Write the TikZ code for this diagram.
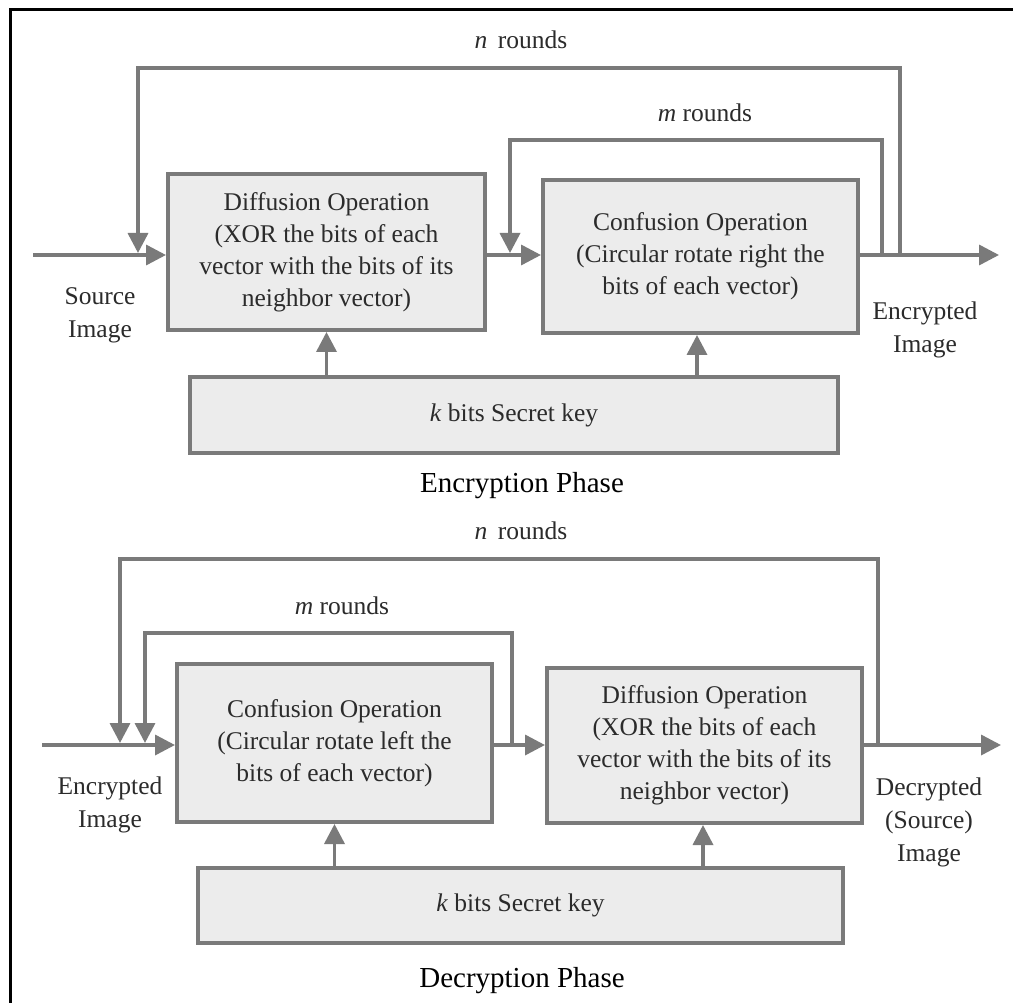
\documentclass[tikz,border=0pt]{standalone}
\usepackage{fontspec}
\setmainfont{Liberation Serif}
\usetikzlibrary{arrows.meta}
\definecolor{wire}{HTML}{7A7A7A}
\definecolor{boxfill}{HTML}{ECECEC}
\definecolor{ink}{HTML}{2B2B2B}

\begin{document}
\begin{tikzpicture}[x=1pt,y=-1pt,
  op/.style={draw=wire, line width=4pt, fill=boxfill, inner sep=0pt,
    align=center, text=ink, font=\fontsize{25.5}{32}\selectfont},
  flow/.style={draw=wire, line width=3.5pt, -{Triangle[length=20pt,width=20pt]}},
  lbl/.style={align=center, text=ink, font=\fontsize{25.5}{33}\selectfont, inner sep=0pt},
  phase/.style={text=black, font=\fontsize{29}{34}\selectfont, inner sep=0pt}]

\useasboundingbox (0,0) rectangle (1013,1003);
\fill[white] (0,0) rectangle (1013,1003);
% frame
\draw[black, line width=3pt] (10,1003) -- (10,10) -- (1013,10);

% ---------------- Encryption phase ----------------
\node[op, minimum width=317pt, minimum height=156pt] (diff1) at (326.5,252)
  {Diffusion Operation\\(XOR the bits of each\\vector with the bits of its\\neighbor vector)};
\node[op, minimum width=315pt, minimum height=153pt] (conf1) at (700.5,256.5)
  {Confusion Operation\\(Circular rotate right the\\bits of each vector)};
\node[op, minimum width=648pt, minimum height=76pt] (key1) at (514,415)
  {\textit{k} bits Secret key};

\coordinate (in1) at (33,255);
\coordinate (out1) at (999,255);
\coordinate (nE1) at (900,255);
\coordinate (nE2) at (138,255);
\coordinate (nEtop) at (138,68);
\coordinate (mE1) at (882,255);
\coordinate (mE2) at (510,255);
\coordinate (mEtop) at (510,140);

\draw[flow] (in1) -- (in1 -| diff1.west);
\draw[flow] (in1 -| diff1.east) -- (in1 -| conf1.west);
\draw[flow] (in1 -| conf1.east) -- (out1);
\draw[flow, shorten >=2pt] (nE1) |- (nEtop) -- (nE2);
\draw[flow, shorten >=2pt] (mE1) |- (mEtop) -- (mE2);
\draw[flow] (key1.north -| diff1.south) -- (diff1.south);
\draw[flow] (key1.north -| 697,0) -- (697,0 |- conf1.south);

\node[lbl] (nlab1) at (521,40) {\textit{n}\, rounds};
\node[lbl] (mlab1) at (705,113) {\textit{m} rounds};
\node[lbl] (src1) at (100,315) {Source\\Image};
\node[lbl] (enc1) at (925,330) {Encrypted\\Image};
\node[phase] (ph1) at (522,486) {Encryption Phase};

% ---------------- Decryption phase ----------------
\node[op, minimum width=315pt, minimum height=158pt] (conf2) at (334.5,743)
  {Confusion Operation\\(Circular rotate left the\\bits of each vector)};
\node[op, minimum width=315pt, minimum height=155pt] (diff2) at (704.5,745.5)
  {Diffusion Operation\\(XOR the bits of each\\vector with the bits of its\\neighbor vector)};
\node[op, minimum width=645pt, minimum height=75pt] (key2) at (520.5,905.5)
  {\textit{k} bits Secret key};

\coordinate (in2) at (42,745);
\coordinate (out2) at (1001,745);
\coordinate (nD1) at (878,745);
\coordinate (nD2) at (120,745);
\coordinate (nDtop) at (120,559);
\coordinate (mD1) at (512,745);
\coordinate (mD2) at (145,745);
\coordinate (mDtop) at (145,633);

\draw[flow] (in2) -- (in2 -| conf2.west);
\draw[flow] (in2 -| conf2.east) -- (in2 -| diff2.west);
\draw[flow] (in2 -| diff2.east) -- (out2);
\draw[flow, shorten >=2pt] (nD1) |- (nDtop) -- (nD2);
\draw[flow, shorten >=2pt] (mD1) |- (mDtop) -- (mD2);
\draw[flow] (key2.north -| conf2.south) -- (conf2.south);
\draw[flow] (key2.north -| 703,0) -- (703,0 |- diff2.south);

\node[lbl] (nlab2) at (521,531) {\textit{n}\, rounds};
\node[lbl] (mlab2) at (342,606) {\textit{m} rounds};
\node[lbl] (enc2) at (110,805) {Encrypted\\Image};
\node[lbl] (dec2) at (929,822) {Decrypted\\(Source)\\Image};
\node[phase] (ph2) at (522,981) {Decryption Phase};
\end{tikzpicture}
\end{document}
